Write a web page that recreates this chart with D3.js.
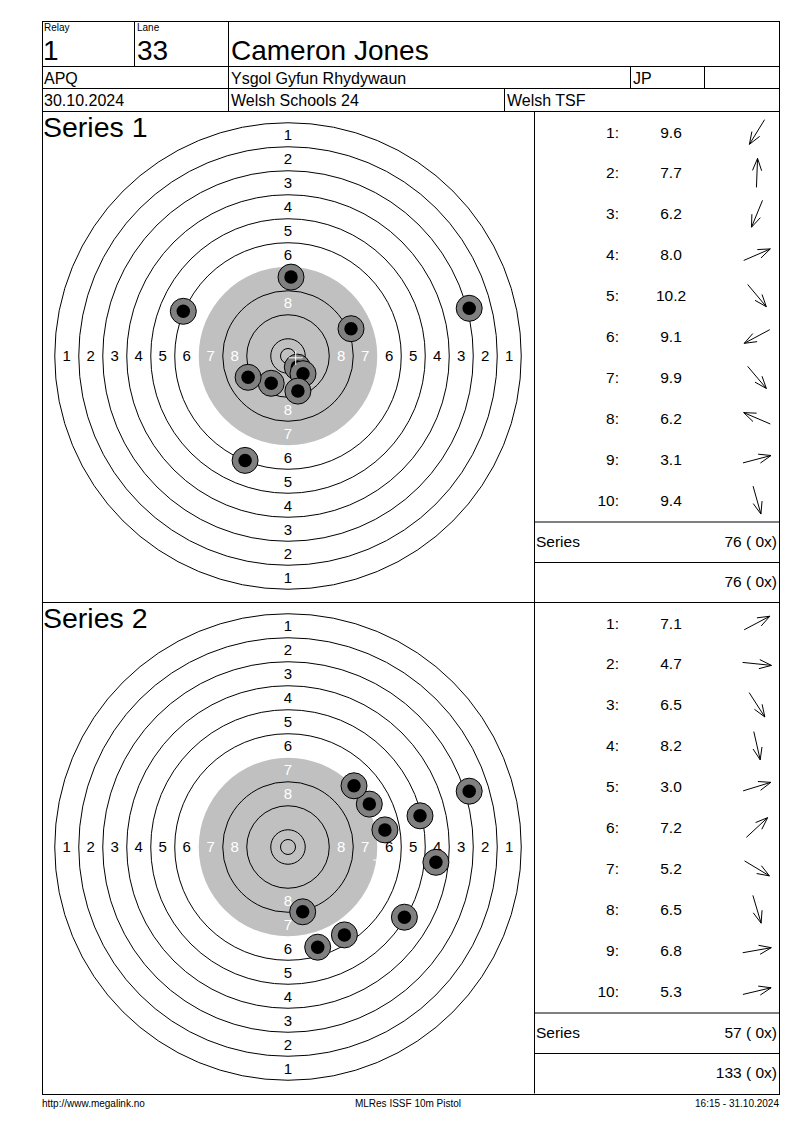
<!DOCTYPE html>
<html>
<head>
<meta charset="utf-8">
<script src="https://cdn.jsdelivr.net/npm/d3@7"></script>
<style>
  body { margin: 0; background: #fff; }
  svg text { font-family: "Liberation Sans", Arial, sans-serif; fill: #000; }
</style>
</head>
<body>
<svg width="800" height="1130"></svg>
<script>
"use strict";

/////////////////////////////////////////////////////
//header texts
/////////////////////////////////////////////////////
const relay = "1";
const lane = "33";
const shooterName = "Cameron Jones";
const shooterClass = "APQ";
const club = "Ysgol Gyfun Rhydywaun";
const initials = "JP";
const matchDate = "30.10.2024";
const matchName = "Welsh Schools 24";
const organiser = "Welsh TSF";
const footerLeft = "http://www.megalink.no";
const footerMid = "MLRes ISSF 10m Pistol";
const footerRight = "16:15 - 31.10.2024";

/////////////////////////////////////////////////////
//target (ISSF 10m pistol, mm) and shots (mm, up = +y)
/////////////////////////////////////////////////////
const ringNumbers = [1, 2, 3, 4, 5, 6, 7, 8, 9, 10];
const ringRadii = [77.75, 69.75, 61.75, 53.75, 45.75, 37.75, 29.75, 21.75, 13.75, 5.75];
const innerTenRadius = 2.5;
const labelRings = [1, 2, 3, 4, 5, 6, 7, 8];

const seriesNames = ["Series 1", "Series 2"];
const shotNumbers = [1, 2, 3, 4, 5, 6, 7, 8, 9, 10];
const innerTens = [0, 0];

const series1Scores = [9.6, 7.7, 6.2, 8.0, 10.2, 9.1, 9.9, 6.2, 3.1, 9.4];
const series1X = [-5.6, 1.0, -14.3, 21.0, 3.1, -13.3, 5.0, -34.9, 60.4, 3.3];
const series1Y = [-9.1, 26.3, -34.8, 9.1, -3.7, -7.1, -5.9, 14.9, 15.9, -11.7];

const series2Scores = [7.1, 4.7, 6.5, 8.2, 3.0, 7.2, 5.2, 6.5, 6.8, 5.3];
const series2X = [27.1, 49.3, 18.8, 4.9, 60.4, 22.0, 38.8, 9.9, 32.3, 44.0];
const series2Y = [14.3, -5.1, -29.3, -21.6, 18.6, 20.4, -23.4, -33.4, 5.7, 10.4];

/////////////////////////////////////////////////////
//layout
/////////////////////////////////////////////////////
const svg = d3.select("svg");
const left = 42.5, right = 779.5, colX = 534.5;
const panelTops = [111.5, 602.5];
const bottom = 1094.5;
const pxPerMm = 3;

function line(x1, y1, x2, y2) {
  svg.append("line")
    .attr("x1", x1).attr("y1", y1).attr("x2", x2).attr("y2", y2)
    .attr("stroke", "#000").attr("stroke-width", 1);
}

function text(x, y, str, size, anchor) {
  return svg.append("text")
    .attr("x", x).attr("y", y)
    .attr("font-size", size)
    .attr("text-anchor", anchor || "start")
    .text(str);
}

/////////////////////////////////////////////////////
//header table
/////////////////////////////////////////////////////
svg.append("rect")
  .attr("x", left).attr("y", 21.5)
  .attr("width", right - left).attr("height", bottom - 21.5)
  .attr("fill", "none").attr("stroke", "#000");

line(left, 66.5, right, 66.5);
line(left, 88.5, right, 88.5);
line(left, 111.5, right, 111.5);
line(134.5, 21.5, 134.5, 66.5);
line(228.5, 21.5, 228.5, 111.5);
line(630.5, 66.5, 630.5, 88.5);
line(704.5, 66.5, 704.5, 88.5);
line(504.5, 88.5, 504.5, 111.5);

text(44, 31, "Relay", 10);
text(137, 31, "Lane", 10);
text(43, 60, relay, 28);
text(137, 60, lane, 28);
text(231, 60, shooterName, 28);
text(44, 84, shooterClass, 16);
text(231, 84, club, 16);
text(633, 84, initials, 16);
text(44, 106, matchDate, 16);
text(231, 106, matchName, 16);
text(507, 106, organiser, 16);

/////////////////////////////////////////////////////
//one panel per series
/////////////////////////////////////////////////////
function drawSeries(idx, scores, xs, ys) {
  const top = panelTops[idx];
  const cx = 288, cy = top + 244.5;

  const xScale = d3.scaleLinear().domain([-80, 80]).range([cx - 80 * pxPerMm, cx + 80 * pxPerMm]);
  const yScale = d3.scaleLinear().domain([-80, 80]).range([cy + 80 * pxPerMm, cy - 80 * pxPerMm]);
  const rScale = d3.scaleLinear().domain([0, 80]).range([0, 80 * pxPerMm]);

  const g = svg.append("g");

  // aiming area = ring 7 and inside
  g.append("circle")
    .attr("cx", cx).attr("cy", cy)
    .attr("r", rScale(ringRadii[6]))
    .attr("fill", "#c0c0c0");

  g.selectAll("circle.ring")
    .data(ringNumbers.filter((n) => n !== 7))
    .enter()
    .append("circle")
    .attr("class", "ring")
    .attr("cx", cx).attr("cy", cy)
    .attr("r", (n) => rScale(ringRadii[n - 1]))
    .attr("fill", "none")
    .attr("stroke", "#000")
    .attr("stroke-width", 1);

  g.append("circle")
    .attr("cx", cx).attr("cy", cy)
    .attr("r", rScale(innerTenRadius))
    .attr("fill", "none")
    .attr("stroke", "#000");

  // ring numbers on the four axes
  const dirs = [[0, 1], [0, -1], [-1, 0], [1, 0]];
  dirs.forEach((d) => {
    g.selectAll(null)
      .data(labelRings)
      .enter()
      .append("text")
      .attr("x", (n) => xScale(d[0] * (ringRadii[n - 1] + ringRadii[n]) / 2))
      .attr("y", (n) => yScale(d[1] * (ringRadii[n - 1] + ringRadii[n]) / 2))
      .attr("dy", "0.36em")
      .attr("text-anchor", "middle")
      .attr("font-size", 15)
      .style("fill", (n) => (n >= 7 ? "#fff" : "#000"))
      .text((n) => n);
  });

  // shots
  const shots = g.selectAll("g.shot")
    .data(shotNumbers.map((n, i) => ({ n: n, x: xs[i], y: ys[i], score: scores[i] })))
    .enter()
    .append("g")
    .attr("class", "shot")
    .attr("transform", (d) => `translate(${xScale(d.x)},${yScale(d.y)})`);
  shots.append("circle").attr("r", 13).attr("fill", "#808080").attr("stroke", "#000");
  shots.append("circle").attr("r", rScale(2.25)).attr("fill", "#000");

  // mean point of impact
  const mx = xScale(d3.mean(xs)), my = yScale(d3.mean(ys));
  g.append("path")
    .attr("d", `M${mx - 7},${my}H${mx + 7}M${mx},${my - 7}V${my + 7}`)
    .attr("stroke", "#fff")
    .attr("stroke-width", 1);

  // series title
  text(43, top + 25.5, seriesNames[idx], 28.5);

  // shot list
  line(colX, top, colX, top + 491);
  shotNumbers.forEach((n, i) => {
    const by = top + 26 + i * 40.9;
    text(619, by, n + ":", 15.5, "end");
    text(671, by, d3.format(".1f")(scores[i]), 15.5, "middle");

    // arrow pointing towards the shot
    const ang = Math.atan2(-ys[i], xs[i]);
    const ax = 757, ay = by - 5.5, half = 14.5;
    const tx = ax + Math.cos(ang) * half, ty = ay + Math.sin(ang) * half;
    const fx = ax - Math.cos(ang) * half, fy = ay - Math.sin(ang) * half;
    const h = 13, spread = 0.36;
    const p = d3.path();
    p.moveTo(fx, fy);
    p.lineTo(tx, ty);
    p.moveTo(tx - Math.cos(ang - spread) * h, ty - Math.sin(ang - spread) * h);
    p.lineTo(tx, ty);
    p.lineTo(tx - Math.cos(ang + spread) * h, ty - Math.sin(ang + spread) * h);
    svg.append("path")
      .attr("d", p.toString())
      .attr("fill", "none")
      .attr("stroke", "#000")
      .attr("stroke-width", 1);
  });

  const seriesTotal = d3.sum(scores, (s) => Math.floor(s));
  line(colX, top + 410.5, right, top + 410.5);
  line(colX, top + 451, right, top + 451);
  text(536, top + 435.5, "Series", 15.5);
  text(777, top + 435.5, `${seriesTotal} ( ${innerTens[idx]}x)`, 15.5, "end");
  return seriesTotal;
}

const total1 = drawSeries(0, series1Scores, series1X, series1Y);
const total2 = drawSeries(1, series2Scores, series2X, series2Y);

// running totals
text(777, panelTops[0] + 475, `${total1} ( ${innerTens[0]}x)`, 15.5, "end");
text(777, panelTops[1] + 475, `${total1 + total2} ( ${innerTens[0] + innerTens[1]}x)`, 15.5, "end");

line(left, 602.5, right, 602.5);

/////////////////////////////////////////////////////
//footer
/////////////////////////////////////////////////////
text(42, 1107, footerLeft, 10);
text(408, 1107, footerMid, 10, "middle");
text(779, 1107, footerRight, 10, "end");
</script>
</body>
</html>
